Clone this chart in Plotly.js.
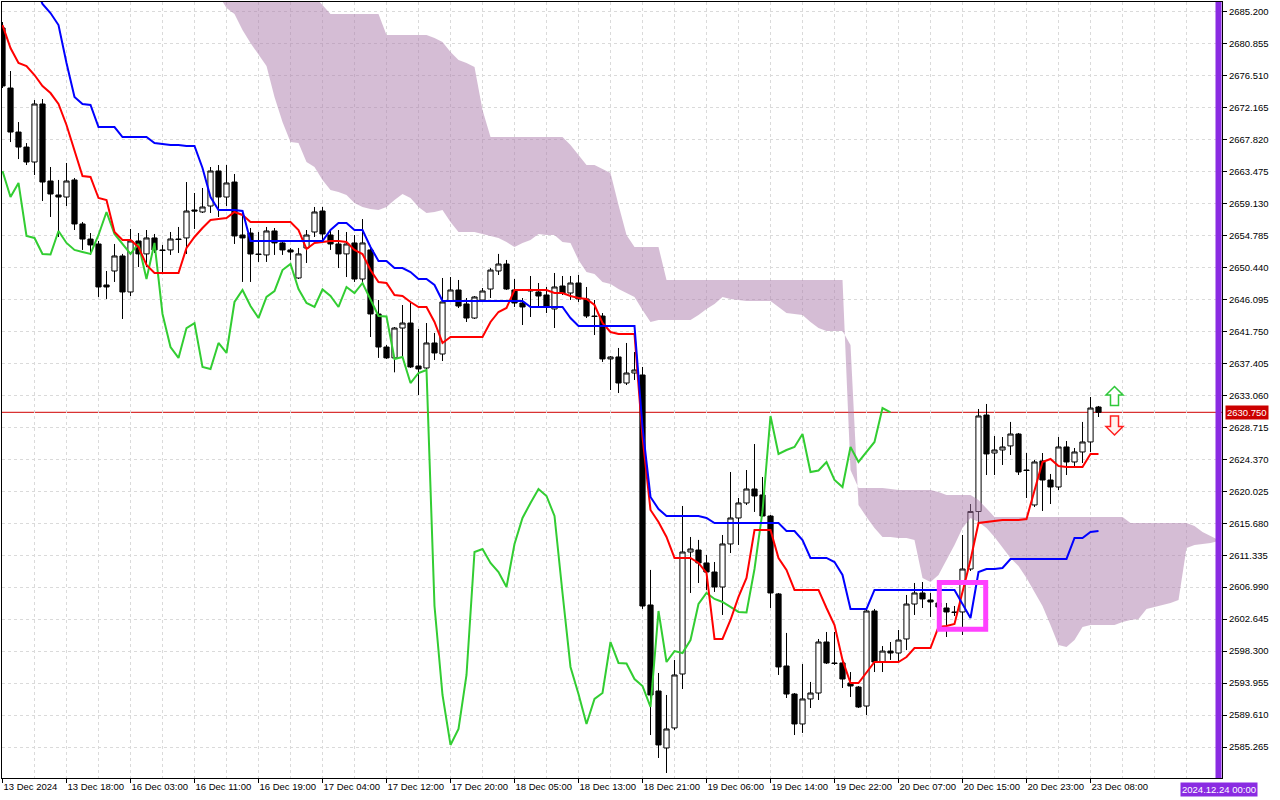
<!DOCTYPE html>
<html>
<head>
<meta charset="utf-8">
<script src="https://cdn.plot.ly/plotly-3.0.1.min.js"></script>
<style>
html,body{margin:0;padding:0;background:#ffffff;}
#chart{width:1280px;height:800px;}
</style>
</head>
<body>
<div id="chart"></div>
<script>
// ---- hourly candles (bar index 0 = first visible bar, 13 Dec 2024) ----
const openPrices = [
2682.97, 2674.81, 2668.83, 2666.79, 2664.76, 2672.64, 2662.18, 2660.28, 2660.00, 2662.32,
2656.34, 2654.29, 2653.62, 2648.05, 2649.95, 2651.99, 2647.10, 2654.03, 2652.27, 2654.44,
2652.81, 2652.81, 2654.30, 2654.44, 2658.24, 2657.97, 2658.78, 2663.54, 2660.00, 2662.04,
2654.84, 2655.11, 2652.26, 2652.13, 2655.39, 2653.76, 2652.81, 2649.00, 2653.08, 2655.25,
2658.10, 2654.84, 2653.62, 2652.27, 2653.76, 2648.86, 2652.81, 2644.11, 2639.62, 2638.14,
2642.20, 2642.88, 2637.04, 2636.77, 2640.17, 2638.67, 2645.87, 2647.37, 2645.47, 2643.56,
2646.01, 2647.50, 2649.95, 2650.90, 2647.37, 2645.60, 2647.23, 2647.10, 2646.69, 2644.79,
2647.91, 2646.96, 2648.32, 2646.15, 2643.83, 2643.83, 2638.00, 2638.27, 2634.73, 2636.09,
2635.82, 2604.57, 2592.88, 2585.14, 2587.86, 2595.19, 2611.77, 2612.04, 2610.28, 2609.05,
2607.01, 2612.86, 2616.39, 2618.43, 2620.33, 2619.52, 2616.66, 2606.07, 2596.28, 2592.47,
2588.40, 2591.80, 2592.61, 2599.54, 2596.69, 2596.69, 2593.97, 2593.42, 2590.84, 2603.75,
2596.82, 2598.31, 2598.04, 2599.95, 2604.70, 2606.20, 2605.25, 2604.84, 2604.16, 2603.62,
2603.62, 2609.46, 2617.27, 2630.38, 2625.22, 2625.63, 2626.18, 2627.80, 2622.91, 2618.16,
2624.14, 2621.55, 2620.60, 2626.04, 2624.00, 2625.36, 2626.72, 2631.47
];
const highPrices = [
2683.78, 2677.12, 2670.19, 2667.33, 2673.18, 2673.32, 2664.08, 2662.32, 2664.63, 2662.59,
2656.61, 2655.11, 2654.03, 2649.95, 2653.62, 2652.27, 2655.66, 2655.11, 2655.52, 2654.98,
2653.49, 2655.25, 2655.93, 2662.04, 2660.55, 2661.23, 2664.08, 2664.35, 2664.35, 2663.13,
2657.83, 2655.79, 2655.25, 2655.93, 2655.79, 2654.03, 2653.08, 2653.08, 2655.52, 2658.65,
2658.65, 2655.52, 2655.52, 2655.25, 2654.84, 2657.01, 2653.08, 2646.01, 2639.89, 2642.34,
2645.33, 2645.74, 2642.07, 2642.88, 2641.53, 2649.00, 2649.13, 2648.73, 2646.28, 2646.55,
2647.64, 2650.35, 2652.27, 2651.45, 2648.86, 2646.28, 2649.27, 2648.32, 2647.78, 2649.68,
2649.27, 2649.27, 2649.41, 2647.78, 2646.01, 2644.24, 2638.40, 2639.49, 2640.17, 2638.94,
2636.91, 2609.33, 2595.33, 2592.34, 2597.10, 2618.02, 2613.81, 2613.41, 2611.36, 2610.41,
2614.08, 2622.64, 2619.11, 2622.91, 2626.44, 2621.96, 2616.80, 2606.20, 2600.77, 2592.61,
2596.55, 2594.11, 2599.95, 2600.90, 2600.90, 2596.82, 2595.46, 2593.56, 2603.89, 2604.03,
2598.99, 2599.54, 2601.17, 2605.93, 2607.56, 2607.69, 2606.20, 2605.52, 2604.84, 2604.43,
2614.08, 2618.29, 2631.20, 2631.88, 2627.53, 2627.39, 2629.44, 2627.94, 2625.22, 2624.27,
2625.22, 2622.37, 2627.39, 2626.85, 2625.90, 2629.44, 2632.83, 2631.61
];
const lowPrices = [
2674.81, 2667.47, 2665.16, 2664.35, 2662.99, 2659.46, 2657.29, 2654.57, 2658.78, 2655.52,
2652.81, 2652.13, 2646.42, 2646.15, 2648.46, 2643.43, 2646.55, 2650.49, 2650.49, 2652.40,
2649.68, 2652.13, 2652.40, 2652.26, 2655.66, 2657.83, 2657.83, 2657.29, 2658.78, 2653.62,
2648.46, 2648.46, 2651.18, 2651.18, 2652.13, 2652.13, 2651.45, 2648.86, 2651.04, 2654.57,
2654.16, 2652.81, 2650.35, 2649.13, 2648.46, 2648.32, 2640.98, 2638.14, 2638.00, 2636.18,
2638.14, 2636.77, 2633.10, 2636.36, 2637.86, 2637.72, 2645.74, 2644.92, 2643.02, 2643.43,
2645.74, 2646.28, 2649.41, 2647.37, 2645.06, 2642.61, 2643.70, 2645.06, 2644.24, 2642.20,
2646.69, 2646.01, 2645.74, 2643.56, 2641.25, 2637.59, 2633.78, 2633.37, 2634.46, 2635.14,
2604.03, 2586.90, 2583.78, 2581.74, 2587.58, 2593.15, 2606.20, 2607.56, 2606.61, 2606.34,
2603.21, 2611.63, 2612.72, 2618.16, 2617.21, 2616.53, 2604.16, 2595.06, 2591.93, 2586.90,
2587.18, 2590.57, 2591.66, 2596.55, 2596.42, 2593.29, 2592.07, 2590.57, 2589.62, 2595.46,
2595.46, 2597.10, 2596.82, 2598.44, 2603.21, 2604.16, 2602.94, 2603.62, 2600.22, 2603.08,
2600.49, 2609.19, 2615.44, 2622.23, 2622.23, 2623.59, 2624.95, 2622.23, 2619.11, 2617.88,
2617.34, 2618.29, 2620.19, 2622.23, 2623.32, 2623.86, 2625.36, 2630.11
];
const closePrices = [
2675.09, 2668.83, 2666.79, 2664.76, 2672.64, 2662.04, 2660.41, 2660.00, 2662.18, 2656.34,
2654.29, 2653.49, 2647.78, 2647.78, 2651.99, 2647.10, 2654.03, 2652.27, 2654.44, 2652.81,
2652.74, 2654.30, 2654.23, 2658.10, 2658.10, 2658.65, 2663.54, 2660.00, 2661.91, 2654.71,
2654.44, 2652.26, 2652.19, 2655.39, 2653.76, 2652.81, 2652.53, 2652.27, 2654.84, 2657.97,
2654.98, 2653.62, 2652.27, 2653.62, 2648.86, 2653.76, 2644.11, 2639.62, 2638.14, 2642.20,
2642.88, 2636.91, 2636.64, 2640.17, 2638.81, 2645.74, 2647.37, 2645.19, 2643.56, 2646.42,
2647.23, 2650.08, 2650.90, 2647.50, 2645.60, 2645.06, 2647.44, 2646.55, 2645.06, 2647.78,
2646.96, 2648.32, 2646.15, 2643.83, 2643.77, 2638.00, 2638.27, 2634.73, 2636.09, 2636.50,
2604.43, 2592.34, 2585.55, 2587.72, 2595.06, 2611.77, 2612.18, 2610.28, 2609.05, 2607.01,
2612.86, 2616.39, 2618.43, 2620.33, 2619.38, 2616.66, 2606.20, 2596.15, 2592.47, 2588.40,
2591.80, 2592.61, 2599.54, 2596.69, 2596.62, 2594.51, 2593.56, 2590.71, 2603.75, 2596.82,
2598.31, 2598.04, 2599.81, 2604.70, 2606.20, 2605.39, 2604.98, 2604.30, 2603.62, 2603.55,
2609.46, 2617.27, 2630.25, 2625.09, 2625.63, 2626.04, 2627.80, 2622.64, 2622.84, 2624.00,
2621.55, 2620.60, 2626.04, 2624.00, 2625.36, 2626.72, 2631.33, 2630.75
];

// ---- Ichimoku lines ----
const tenkanSen = [
2683.37, 2680.25, 2678.21, 2677.80, 2676.58, 2675.09, 2674.13, 2672.64, 2669.79, 2666.39,
2662.86, 2662.72, 2659.87, 2659.60, 2655.25, 2654.16, 2654.16, 2653.22, 2650.77, 2649.68,
2649.68, 2649.68, 2649.68, 2653.08, 2654.57, 2655.79, 2656.88, 2657.01, 2657.15, 2657.97,
2657.56, 2656.61, 2656.61, 2656.61, 2656.61, 2656.61, 2656.61, 2655.52, 2652.94, 2653.76,
2653.89, 2654.03, 2654.03, 2653.89, 2652.81, 2652.26, 2650.08, 2648.46, 2648.32, 2646.69,
2646.55, 2645.74, 2645.06, 2645.06, 2643.02, 2640.17, 2640.98, 2640.98, 2640.98, 2640.98,
2640.98, 2643.02, 2644.38, 2644.92, 2647.37, 2647.37, 2647.37, 2647.37, 2647.37, 2646.96,
2646.96, 2646.55, 2646.28, 2646.15, 2645.33, 2642.88, 2641.66, 2641.39, 2641.39, 2641.39,
2627.39, 2617.48, 2615.85, 2613.81, 2610.96, 2610.96, 2610.96, 2610.28, 2608.92, 2599.95,
2599.95, 2602.53, 2605.66, 2608.24, 2614.76, 2614.76, 2614.76, 2610.96, 2609.33, 2606.61,
2606.61, 2606.61, 2606.61, 2604.16, 2601.85, 2597.10, 2593.97, 2593.97, 2595.46, 2596.82,
2596.82, 2596.82, 2596.82, 2597.50, 2598.72, 2598.72, 2598.72, 2601.58, 2601.72, 2601.99,
2606.20, 2610.68, 2615.71, 2615.85, 2615.98, 2616.12, 2616.12, 2616.12, 2616.25, 2620.19,
2624.00, 2624.41, 2623.45, 2623.32, 2623.32, 2623.32, 2625.09, 2625.09
];
const kijunSen = [
2696.00, 2694.00, 2692.00, 2690.50, 2688.80, 2686.23, 2685.00, 2683.37, 2678.21, 2673.59,
2672.64, 2672.50, 2669.51, 2669.51, 2669.51, 2668.15, 2668.15, 2668.15, 2668.15, 2667.34,
2667.20, 2667.07, 2667.07, 2666.93, 2666.93, 2663.94, 2660.00, 2658.24, 2658.24, 2658.24,
2658.10, 2654.03, 2654.03, 2654.03, 2654.03, 2654.03, 2654.03, 2654.03, 2654.03, 2654.03,
2654.03, 2655.52, 2656.47, 2656.47, 2655.52, 2655.52, 2653.22, 2651.31, 2651.31, 2650.35,
2650.35, 2649.81, 2648.86, 2648.86, 2648.05, 2645.87, 2645.87, 2645.87, 2645.87, 2645.87,
2645.87, 2645.87, 2645.87, 2645.87, 2645.87, 2645.87, 2645.06, 2645.06, 2645.06, 2645.06,
2645.06, 2643.56, 2642.48, 2642.48, 2642.48, 2642.48, 2642.48, 2642.48, 2642.48, 2642.48,
2628.75, 2619.25, 2617.61, 2616.66, 2616.66, 2616.66, 2616.66, 2616.66, 2616.39, 2615.71,
2615.71, 2615.71, 2615.71, 2615.71, 2615.71, 2615.71, 2615.71, 2615.71, 2614.62, 2614.62,
2613.40, 2610.96, 2610.96, 2610.96, 2610.41, 2608.65, 2604.03, 2604.03, 2604.03, 2606.61,
2606.61, 2606.61, 2606.61, 2606.61, 2606.61, 2606.61, 2606.61, 2606.61, 2606.61, 2606.61,
2604.70, 2602.80, 2609.05, 2609.46, 2609.46, 2609.60, 2610.82, 2610.82, 2610.82, 2610.82,
2610.82, 2610.82, 2610.82, 2610.82, 2613.67, 2613.67, 2614.49, 2614.62
];
// cloud, starting at bar 27 and running 26 bars past the last candle (visible to bar 152)
const cloudFirstBar = 27;
const senkouSpanA = [
2687.45, 2685.68, 2684.87, 2682.69, 2680.93, 2679.30, 2677.80, 2673.59, 2670.19, 2667.48, 2667.34, 2664.76, 2664.08,
2662.32, 2660.96, 2660.68, 2660.28, 2659.19, 2658.65, 2658.37, 2658.24, 2658.65, 2659.60,
2660.41, 2659.87, 2658.65, 2657.83, 2657.97, 2658.24, 2656.61, 2655.25, 2655.25, 2655.25,
2654.98, 2654.71, 2654.44, 2653.89, 2653.22, 2653.76, 2654.16, 2654.98, 2654.84, 2654.84,
2653.89, 2653.76, 2651.45, 2649.81, 2649.54, 2648.46, 2648.18, 2647.50, 2646.96, 2646.42,
2644.65, 2643.02, 2643.29, 2643.29, 2643.29, 2643.29, 2643.29, 2643.97, 2644.79, 2645.47,
2646.42, 2646.15, 2646.01, 2645.87, 2645.87, 2645.87, 2645.87, 2645.06, 2644.24, 2644.11,
2643.97, 2643.02, 2642.20, 2641.80, 2641.80, 2641.80, 2639.89, 2618.16, 2616.53, 2615.03,
2613.81, 2613.81, 2613.67, 2613.67, 2613.40, 2608.24, 2607.69, 2608.65, 2610.68, 2612.72,
2615.03, 2616.39, 2615.85, 2615.03, 2613.81, 2612.32, 2610.96, 2609.87, 2608.24, 2606.34,
2604.43, 2601.85, 2599.13, 2598.86, 2599.81, 2601.58, 2601.85, 2601.85, 2601.85, 2601.85,
2602.26, 2602.53, 2602.67, 2604.03, 2604.30, 2604.57, 2604.84, 2605.25, 2612.32, 2612.72,
2612.86, 2613.00, 2613.27
];
const senkouSpanB = [
2696.00, 2695.50, 2695.00, 2694.50, 2694.00, 2693.50, 2693.00, 2692.50, 2692.00, 2691.00, 2690.00, 2688.50, 2687.30,
2686.09, 2684.87, 2684.87, 2684.87, 2684.87, 2684.87, 2684.87, 2684.87, 2682.01, 2682.01,
2682.01, 2682.01, 2682.01, 2682.01, 2681.61, 2681.06, 2679.71, 2678.62, 2678.21, 2677.67,
2671.82, 2668.16, 2668.16, 2668.16, 2668.16, 2668.16, 2668.16, 2668.16, 2668.16, 2668.16,
2668.16, 2667.07, 2665.71, 2664.35, 2664.35, 2663.81, 2663.27, 2658.92, 2654.84, 2653.22,
2653.22, 2653.22, 2653.22, 2648.73, 2648.73, 2648.73, 2648.73, 2648.73, 2648.73, 2648.73,
2648.73, 2648.73, 2648.73, 2648.73, 2648.73, 2648.73, 2648.73, 2648.73, 2648.73, 2648.73,
2648.73, 2648.73, 2648.73, 2648.73, 2648.73, 2648.73, 2622.91, 2620.47, 2620.47, 2620.47,
2620.47, 2620.33, 2620.19, 2620.19, 2620.19, 2620.19, 2620.19, 2619.92, 2619.52, 2619.52,
2619.52, 2619.52, 2618.84, 2617.75, 2616.53, 2616.53, 2616.53, 2616.53, 2616.53, 2616.53,
2616.53, 2616.53, 2616.53, 2616.53, 2616.53, 2616.53, 2616.53, 2616.53, 2616.53, 2616.53,
2616.53, 2615.71, 2615.71, 2615.71, 2615.71, 2615.71, 2615.71, 2615.71, 2615.71, 2615.31,
2614.49, 2613.95, 2613.40
];
const chikouShift = 26;

// ---- axis labels ----
const xTickLabels = [
"13 Dec 2024", "13 Dec 18:00", "16 Dec 03:00", "16 Dec 11:00", "16 Dec 19:00", "17 Dec 04:00",
"17 Dec 12:00", "17 Dec 20:00", "18 Dec 05:00", "18 Dec 13:00", "18 Dec 21:00", "19 Dec 06:00",
"19 Dec 14:00", "19 Dec 22:00", "20 Dec 07:00", "20 Dec 15:00", "20 Dec 23:00", "23 Dec 08:00"
];
const xTickEvery = 8;
const yTickLabels = [
"2585.265", "2589.610", "2593.955", "2598.300", "2602.645", "2606.990", "2611.335", "2615.680",
"2620.025", "2624.370", "2628.715", "2633.060", "2637.405", "2641.750", "2646.095", "2650.440",
"2654.785", "2659.130", "2663.475", "2667.820", "2672.165", "2676.510", "2680.855", "2685.200"
];
const separatorBar = 152;
const separatorLabel = "2024.12.24 00:00";
const lastPrice = 2630.75;
const signalBar = 139;
const signalUpPrice = 2632.97;
const signalDownPrice = 2628.96;
const highlightBars = [117.1, 122.9];
const highlightPrices = [2601.28, 2607.63];

// ---- build ----
const bars = openPrices.map((_, i) => i);
const cloudBars = senkouSpanA.map((_, k) => cloudFirstBar + k);
const chikouValues = closePrices.slice(chikouShift);
const chikouBars = chikouValues.map((_, k) => k);
const xTickVals = xTickLabels.map((_, k) => k * xTickEvery);
const yTickVals = yTickLabels.map(Number);

const FONT = "Liberation Sans, Arial, sans-serif";
const GRID = "#dadada";
// block-arrow glyphs (pixel offsets around the anchor point)
const ARROW_UP = "M0,9.5 L8.5,1 L4,1 L4,-9.5 L-4,-9.5 L-4,1 L-8.5,1 Z";
const ARROW_DOWN = "M0,-9.5 L8.5,-1 L4,-1 L4,9.5 L-4,9.5 L-4,-1 L-8.5,-1 Z";

const traces = [
  { type: "scatter", mode: "lines", x: cloudBars, y: senkouSpanA,
    line: { width: 0, color: "rgba(0,0,0,0)" }, hoverinfo: "skip", showlegend: false },
  { type: "scatter", mode: "lines", x: cloudBars, y: senkouSpanB, fill: "tonexty",
    fillcolor: "rgba(171,123,171,0.5)", line: { width: 0, color: "rgba(0,0,0,0)" },
    hoverinfo: "skip", showlegend: false },
  { type: "candlestick", x: bars, open: openPrices, high: highPrices, low: lowPrices, close: closePrices,
    increasing: { line: { color: "#000000", width: 1 }, fillcolor: "#ffffff" },
    decreasing: { line: { color: "#000000", width: 1 }, fillcolor: "#000000" },
    whiskerwidth: 0, showlegend: false, hoverinfo: "skip" },
  { type: "scatter", mode: "lines", x: chikouBars, y: chikouValues,
    line: { color: "#32cd32", width: 2 }, showlegend: false, hoverinfo: "skip" },
  { type: "scatter", mode: "lines", x: bars, y: tenkanSen,
    line: { color: "#ff0000", width: 2 }, showlegend: false, hoverinfo: "skip" },
  { type: "scatter", mode: "lines", x: bars, y: kijunSen,
    line: { color: "#0000ff", width: 2 }, showlegend: false, hoverinfo: "skip" }
];

const layout = {
  width: 1280, height: 800,
  margin: { l: 2, r: 58, t: 2, b: 22, pad: 0 },
  paper_bgcolor: "#ffffff", plot_bgcolor: "#ffffff",
  showlegend: false, hovermode: false,
  boxgap: 0.35, boxgroupgap: 0,
  font: { family: FONT, size: 9.5, color: "#000000" },
  xaxis: {
    type: "linear", range: [-0.0625, 152.4375], autorange: false,
    tickmode: "array", tickvals: xTickVals, ticktext: xTickLabels,
    tickangle: 0, automargin: false,
    ticks: "outside", ticklen: 4, tickwidth: 1, tickcolor: "#000000",
    ticklabelposition: "outside right",
    tickfont: { family: FONT, size: 9.5, color: "#000000" },
    showgrid: true, gridcolor: GRID, gridwidth: 1, griddash: "3px,3px",
    minor: { tickmode: "linear", tick0: 0, dtick: 4, showgrid: true, gridcolor: GRID,
             gridwidth: 1, griddash: "3px,3px", ticks: "" },
    showline: true, mirror: true, linecolor: "#000000", linewidth: 1,
    zeroline: false, rangeslider: { visible: false }, fixedrange: true
  },
  yaxis: {
    side: "right", range: [2581.06, 2686.50], autorange: false, automargin: false,
    tickmode: "array", tickvals: yTickVals, ticktext: yTickLabels,
    ticks: "outside", ticklen: 4, tickwidth: 1, tickcolor: "#000000",
    tickfont: { family: FONT, size: 9.5, color: "#000000" },
    showgrid: true, gridcolor: GRID, gridwidth: 1, griddash: "3px,3px",
    showline: true, mirror: true, linecolor: "#000000", linewidth: 1,
    zeroline: false, fixedrange: true
  },
  shapes: [
    { type: "line", xref: "paper", x0: 0, x1: 1, yref: "y", y0: lastPrice, y1: lastPrice,
      line: { color: "#d00000", width: 1 }, layer: "below" },
    { type: "rect", xref: "x", yref: "y", x0: highlightBars[0], x1: highlightBars[1],
      y0: highlightPrices[0], y1: highlightPrices[1],
      line: { color: "#ff40ff", width: 5 }, fillcolor: "rgba(0,0,0,0)", layer: "above" },
    { type: "line", xref: "x", x0: separatorBar, x1: separatorBar, yref: "paper", y0: 0, y1: 1,
      line: { color: "#8a2be2", width: 6 }, layer: "above" },
    { type: "path", xref: "x", yref: "y", xsizemode: "pixel", ysizemode: "pixel",
      xanchor: signalBar, yanchor: signalUpPrice, path: ARROW_UP,
      line: { color: "#2fc83a", width: 1.5 }, fillcolor: "#ffffff", layer: "above" },
    { type: "path", xref: "x", yref: "y", xsizemode: "pixel", ysizemode: "pixel",
      xanchor: signalBar, yanchor: signalDownPrice, path: ARROW_DOWN,
      line: { color: "#ff2020", width: 1.5 }, fillcolor: "#fff4f0", layer: "above" }
  ],
  annotations: [
    { xref: "paper", x: 1, xanchor: "left", xshift: 3, yref: "y", y: lastPrice, yanchor: "middle",
      text: lastPrice.toFixed(3), showarrow: false, bgcolor: "#cc0000", borderpad: 1,
      font: { family: FONT, size: 9.5, color: "#ffffff" } },
    { xref: "x", x: separatorBar, xanchor: "center", yref: "paper", y: 0, yanchor: "top", yshift: -4,
      text: separatorLabel, showarrow: false, bgcolor: "#8a2be2", borderpad: 1,
      font: { family: FONT, size: 9.5, color: "#ffffff" } }
  ]
};

Plotly.newPlot("chart", traces, layout, { staticPlot: true, displayModeBar: false });
</script>
</body>
</html>
